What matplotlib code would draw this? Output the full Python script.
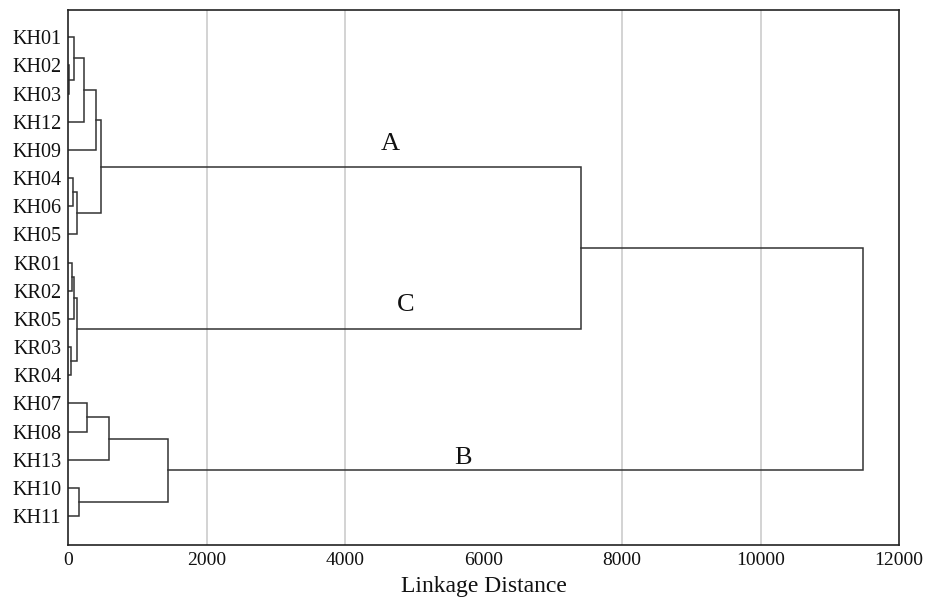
import matplotlib.pyplot as plt

# leaf labels, top to bottom
leaves = ["KH01", "KH02", "KH03", "KH12", "KH09", "KH04", "KH06", "KH05",
          "KR01", "KR02", "KR05", "KR03", "KR04",
          "KH07", "KH08", "KH13", "KH10", "KH11"]

# merges: cluster ids 0..17 are leaves, each merge creates id 18, 19, ...
merge_left = [1, 0, 19, 20, 5, 22, 21, 8, 25, 11, 26, 24, 13, 30, 16, 31, 29]
merge_right = [2, 18, 3, 4, 6, 7, 23, 9, 10, 12, 27, 28, 14, 15, 17, 32, 33]
merge_height = [8, 83, 232, 397, 64, 121, 469, 49, 83, 39, 121, 7410,
                275, 594, 155, 1434, 11480]

group_names = ["A", "C", "B"]
group_x = [4650, 4880, 5700]
group_y = [3.78, 9.5, 14.95]

grid_x = [2000, 4000, 8000, 10000]
x_ticks = [0, 2000, 4000, 6000, 8000, 10000, 12000]

plt.rcParams["font.family"] = ["Liberation Serif", "DejaVu Serif"]

fig = plt.figure(figsize=(9.35, 6.0), dpi=100)
ax = fig.add_axes([0.073, 0.0917, 0.8887, 0.8916])

line_kw = dict(color="#333333", linewidth=1.1, solid_joinstyle="miter")

pos_y = {i: float(i) for i in range(len(leaves))}
pos_x = {i: 0.0 for i in range(len(leaves))}
for k, (a, b, h) in enumerate(zip(merge_left, merge_right, merge_height)):
    node = len(leaves) + k
    ax.plot([pos_x[a], h, h, pos_x[b]], [pos_y[a], pos_y[a], pos_y[b], pos_y[b]],
            **line_kw)
    pos_y[node] = (pos_y[a] + pos_y[b]) / 2
    pos_x[node] = h

for gx in grid_x:
    ax.axvline(gx, color="#c8c8c8", linewidth=1.1, zorder=0)

for name, gx, gy in zip(group_names, group_x, group_y):
    ax.text(gx, gy, name, fontsize=19, ha="center", va="center", color="#111111")

ax.set_xlim(0, 12000)
ax.set_ylim(len(leaves) - 1 + 1.03, -0.97)
ax.set_xticks(x_ticks)
ax.set_xticklabels([str(t) for t in x_ticks], fontsize=14)
ax.set_yticks(range(len(leaves)))
ax.set_yticklabels(leaves, fontsize=14.5)
ax.tick_params(length=0, pad=5, colors="#111111")
ax.set_xlabel("Linkage Distance", fontsize=17, labelpad=5, color="#111111")

for spine in ax.spines.values():
    spine.set_color("#222222")
    spine.set_linewidth(1.2)

fig.savefig("out.png", dpi=100, facecolor="white")
